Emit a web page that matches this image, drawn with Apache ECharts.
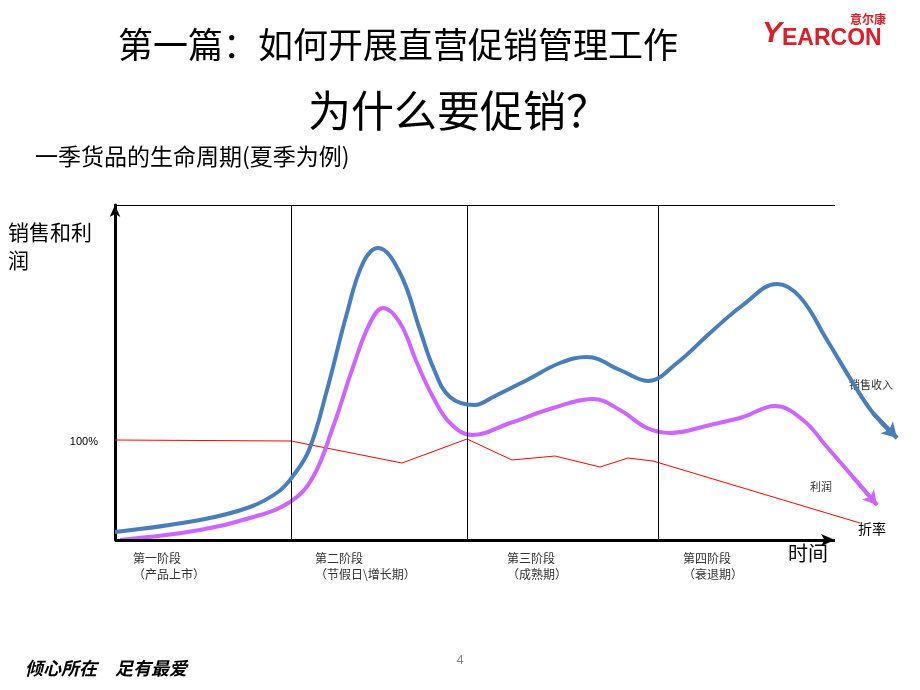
<!DOCTYPE html>
<html>
<head>
<meta charset="utf-8">
<script src="https://cdn.jsdelivr.net/npm/echarts@6/dist/echarts.min.js"></script>
<style>
html,body{margin:0;padding:0;background:#fff;}
#chart{width:920px;height:690px;}
</style>
</head>
<body>
<div id="chart"></div>
<script>
// time units along x, value units along y (100 = 100% discount level)
var salesData = [[0,8],[85,20],[135,33],[163,48],[178,64],[194,90],[212,150],[232,227],[248,277],[263,292],[285,267],[305,210],[318,173],[335,143],[360,135],[378,143],[412,160],[445,177],[472,183],[505,170],[533,159],[562,177],[595,207],[628,235],[662,256],[685,243],[712,200],[738,157],[758,127],[782,102]];
var profitData = [[5,0],[85,10],[135,22],[175,38],[198,63],[218,113],[238,173],[255,217],[268,232],[285,217],[302,177],[318,143],[335,117],[357,105],[395,117],[438,132],[478,141],[505,130],[532,112],[555,107],[595,115],[628,123],[660,134],[688,120],[712,93],[738,63],[762,35]];
var discountData = [[0,100],[176,99],[287,77],[352,101],[397,80],[440,84],[485,73],[513,82],[538,79],[745,17]];
var stageBounds = [176, 352, 543];
var stageNames = ['第一阶段','第二阶段','第三阶段','第四阶段'];
var stageSubs = ['（产品上市）','（节假日\\增长期）','（成熟期）','（衰退期）'];
var xEnd = 720, yTop = 335, xMax = 790;

var chart = echarts.init(document.getElementById('chart'));
var CJK = '"Noto Sans CJK SC", sans-serif';

var frameLines = stageBounds.map(function(b){ return [{coord:[b,0]},{coord:[b,yTop]}]; });
frameLines.push([{coord:[0,yTop]},{coord:[xEnd,yTop]}]);
frameLines.push([
  {coord:[0,0], symbol:'none', lineStyle:{width:3, color:'#000'}},
  {coord:[xEnd,0], symbol:'arrow', symbolSize:[9,14], lineStyle:{width:3, color:'#000'}}
]);

function arrowEnd(arr){
  var n = arr.length;
  return [[{coord:arr[n-2], symbol:'none'},{coord:arr[n-1], symbol:'arrow'}]];
}

var stageX = [133, 315, 507, 683];
var graphics = [
  {type:'text', style:{text:'第一篇：如何开展直营促销管理工作', x:118, y:45, font:'normal 35px '+CJK, fill:'#000', textVerticalAlign:'middle'}},
  {type:'text', style:{text:'为什么要促销？', x:308, y:111, font:'normal 43px '+CJK, fill:'#000', textVerticalAlign:'middle'}},
  {type:'text', style:{text:'一季货品的生命周期(夏季为例)', x:35, y:156, font:'normal 23px '+CJK, fill:'#000', textVerticalAlign:'middle'}},
  {type:'text', style:{text:'销售和利', x:8, y:232, font:'normal 21px '+CJK, fill:'#000', textVerticalAlign:'middle'}},
  {type:'text', style:{text:'润', x:8, y:260, font:'normal 21px '+CJK, fill:'#000', textVerticalAlign:'middle'}},
  {type:'text', style:{text:'100%', x:98, y:442, font:'normal 11px Arial, "Liberation Sans"', fill:'#000', textAlign:'right', textVerticalAlign:'middle'}},
  {type:'text', style:{text:'时间', x:788, y:553, font:'normal 20px '+CJK, fill:'#000', textVerticalAlign:'middle'}},
  {type:'text', style:{text:'销售收入', x:849, y:385, font:'normal 11px '+CJK, fill:'#333', textVerticalAlign:'middle'}},
  {type:'text', style:{text:'利润', x:810, y:487, font:'normal 11px '+CJK, fill:'#333', textVerticalAlign:'middle'}},
  {type:'text', style:{text:'折率', x:858, y:529, font:'normal 14px '+CJK, fill:'#000', textVerticalAlign:'middle'}},
  {type:'text', style:{text:'4', x:460, y:660, font:'normal 13px Arial, "Liberation Sans"', fill:'#888', textAlign:'center', textVerticalAlign:'middle'}},
  {type:'text', style:{text:'倾心所在　足有最爱', x:25, y:668, font:'italic bold 18px '+CJK, fill:'#000', textVerticalAlign:'middle'}},
  {type:'text', style:{text:'意尔康', x:850, y:19, font:'bold 12px '+CJK, fill:'#d9202a', textVerticalAlign:'middle'}},
  {type:'text', style:{
    text:'{y|Y}{r|EARCON}', x:762, y:34, textVerticalAlign:'middle',
    rich:{
      y:{font:'italic bold 30px Arial, "Liberation Sans"', fill:'#d9202a'},
      r:{font:'bold 23px Arial, "Liberation Sans"', fill:'#d9202a', padding:[9,0,0,0]}
    }
  }}
];
stageNames.forEach(function(n,i){
  graphics.push({type:'text', style:{text:n, x:stageX[i], y:558, font:'normal 12px '+CJK, fill:'#333', textVerticalAlign:'middle'}});
  graphics.push({type:'text', style:{text:stageSubs[i], x:stageX[i], y:574, font:'normal 12px '+CJK, fill:'#333', textVerticalAlign:'middle'}});
});

chart.setOption({
  animation:false,
  grid:{left:115, right:15, top:205, bottom:150},
  xAxis:{type:'value', min:0, max:xMax,
    axisLine:{show:false}, axisTick:{show:false}, axisLabel:{show:false}, splitLine:{show:false}},
  yAxis:{type:'value', min:0, max:yTop,
    axisLine:{show:true, onZero:false, symbol:['none','arrow'], symbolSize:[8,12], lineStyle:{color:'#000', width:3}},
    axisTick:{show:false}, axisLabel:{show:false}, splitLine:{show:false}},
  graphic:graphics,
  series:[
    {type:'line', name:'折率', data:discountData, symbol:'none', smooth:false,
      lineStyle:{color:'#ff0000', width:1}, z:3,
      markLine:{silent:true, symbol:'none', label:{show:false}, lineStyle:{color:'#000', width:1, type:'solid'}, data:frameLines}},
    {type:'line', name:'销售收入', data:salesData, symbol:'none', smooth:0.4,
      lineStyle:{color:'#4a7ebb', width:4}, z:5,
      markLine:{silent:true, symbolSize:[13,15], label:{show:false}, lineStyle:{color:'#4a7ebb', width:4, type:'solid'}, data:arrowEnd(salesData)}},
    {type:'line', name:'利润', data:profitData, symbol:'none', smooth:0.4,
      lineStyle:{color:'#cc66ff', width:4}, z:4,
      markLine:{silent:true, symbolSize:[12,14], label:{show:false}, lineStyle:{color:'#cc66ff', width:4, type:'solid'}, data:arrowEnd(profitData)}}
  ]
});
</script>
</body>
</html>
